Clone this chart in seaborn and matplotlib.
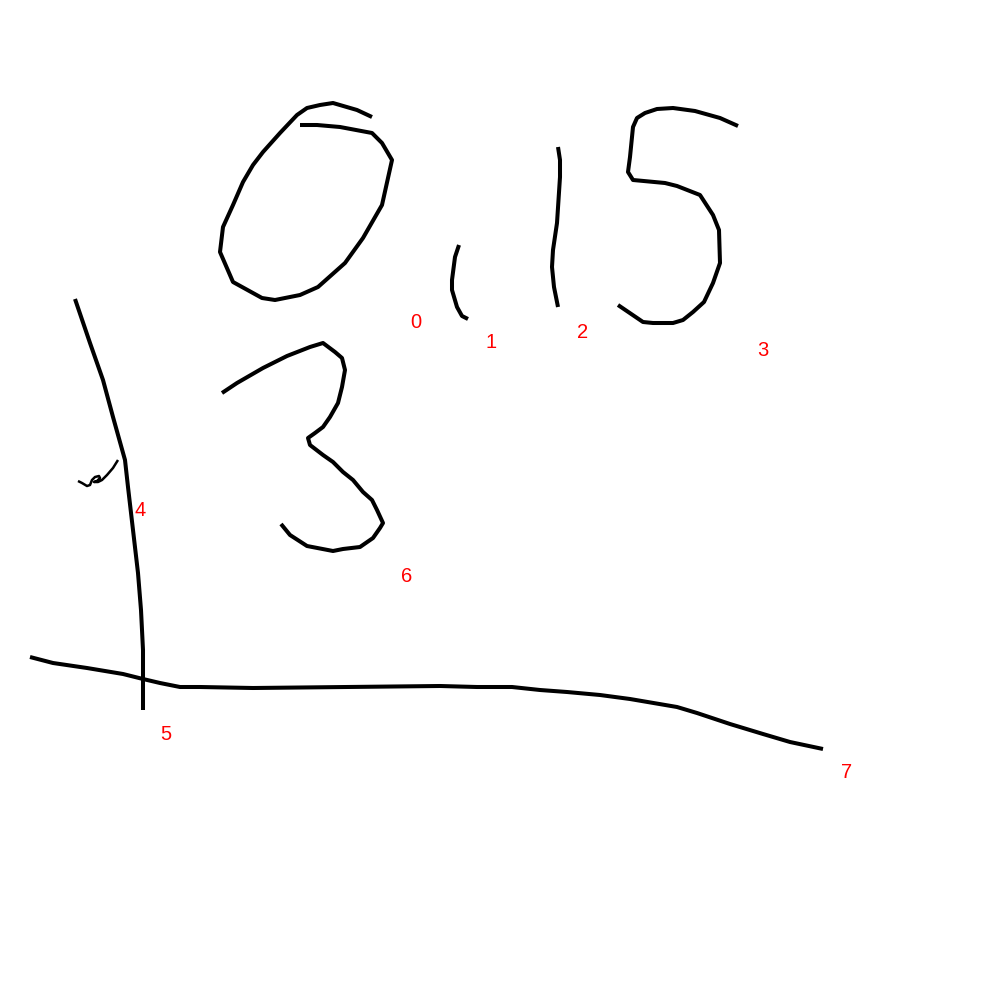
import matplotlib
matplotlib.use("Agg")
import matplotlib.pyplot as plt
import seaborn as sns
import pandas as pd

sns.set_theme(style="white")
plt.rcParams['font.family'] = ['Liberation Sans', 'DejaVu Sans']

# Stroke point lists (pixel coordinates of the sketch)
stroke0_x = [372, 357, 333, 320, 307, 297, 280, 263, 253, 243, 233, 223, 220, 233, 262, 275, 300, 318, 345, 363, 382, 392, 382, 372, 340, 317, 300]
stroke0_y = [117, 110, 103, 105, 108, 115, 133, 152, 165, 182, 205, 227, 252, 282, 298, 300, 295, 287, 263, 238, 205, 160, 143, 133, 127, 125, 125]
stroke1_x = [459, 455, 452, 452, 457, 462, 468]
stroke1_y = [245, 257, 280, 290, 307, 316, 319]
stroke2_x = [558, 560, 560, 557, 553, 552, 554, 558]
stroke2_y = [147, 160, 177, 223, 250, 267, 287, 307]
stroke3_x = [738, 720, 695, 673, 657, 645, 637, 633, 630, 628, 633, 665, 677, 700, 713, 719, 720, 713, 704, 693, 683, 673, 653, 643, 618]
stroke3_y = [126, 118, 111, 108, 109, 113, 118, 127, 157, 172, 180, 183, 186, 195, 215, 230, 263, 283, 302, 312, 320, 323, 323, 322, 305]
stroke4_x = [78, 82, 87, 90, 92, 95, 99, 100, 97, 94, 98, 102, 107, 113, 118]
stroke4_y = [481, 483, 486, 485, 480, 477, 476, 478, 481, 482, 482, 480, 475, 468, 460]
stroke5_x = [75, 90, 103, 113, 125, 128, 133, 138, 141, 143, 143]
stroke5_y = [299, 343, 380, 417, 460, 487, 530, 573, 610, 650, 710]
stroke6_x = [222, 237, 263, 287, 310, 323, 335, 342, 345, 342, 338, 330, 323, 315, 308, 310, 323, 333, 343, 353, 363, 372, 377, 383, 380, 373, 360, 343, 333, 307, 290, 281]
stroke6_y = [393, 383, 368, 356, 347, 343, 352, 358, 370, 387, 403, 417, 427, 433, 438, 445, 455, 462, 472, 480, 492, 500, 510, 523, 528, 538, 547, 549, 551, 546, 535, 524]
stroke7_x = [30, 53, 87, 123, 143, 160, 180, 200, 253, 440, 477, 512, 540, 567, 600, 630, 677, 697, 730, 763, 790, 823]
stroke7_y = [657, 663, 668, 674, 679, 683, 687, 687, 688, 686, 687, 687, 690, 692, 695, 699, 707, 713, 724, 734, 742, 749]

labels = ["0", "1", "2", "3", "4", "5", "6", "7"]
label_x = [416, 491, 583, 763, 140, 166, 407, 847]
label_y = [323, 343, 332, 350, 511, 734, 577, 773]

strokes = [
    (stroke0_x, stroke0_y), (stroke1_x, stroke1_y), (stroke2_x, stroke2_y),
    (stroke3_x, stroke3_y), (stroke4_x, stroke4_y), (stroke5_x, stroke5_y),
    (stroke6_x, stroke6_y), (stroke7_x, stroke7_y),
]
widths = [2.9, 2.9, 2.9, 2.9, 1.8, 2.9, 2.9, 2.9]

fig = plt.figure(figsize=(10, 10), dpi=100)
ax = fig.add_axes([0, 0, 1, 1])
for i, (xs, ys) in enumerate(strokes):
    df = pd.DataFrame({"x": xs, "y": ys})
    sns.lineplot(data=df, x="x", y="y", sort=False, estimator=None,
                 color="black", linewidth=widths[i], ax=ax,
                 solid_capstyle="butt", solid_joinstyle="round")

for t, lx, ly in zip(labels, label_x, label_y):
    ax.text(lx, ly, t, color="red", fontsize=14.5, ha="center", va="center")

ax.set_xlim(0, 1000)
ax.set_ylim(1000, 0)
ax.axis("off")
fig.savefig("out.png", dpi=100, facecolor="white")
